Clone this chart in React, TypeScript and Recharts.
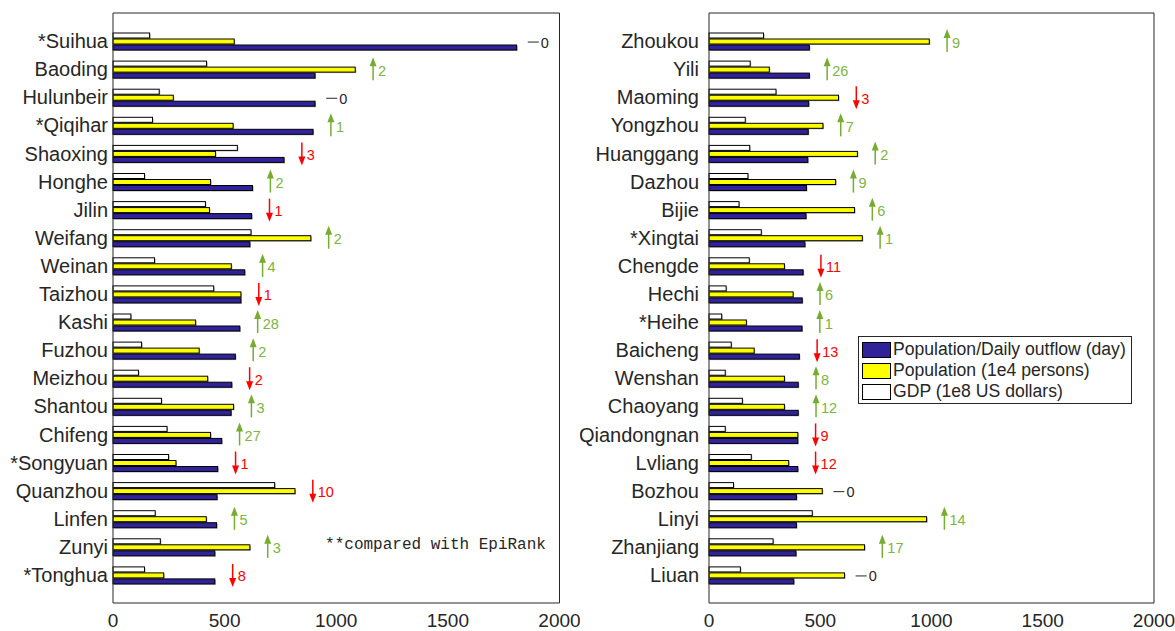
import React from 'react'
import { BarChart, Bar, XAxis, YAxis, ReferenceDot } from 'recharts'

// left panel (ranks 1-20)
const leftCities = ['*Suihua', 'Baoding', 'Hulunbeir', '*Qiqihar', 'Shaoxing', 'Honghe', 'Jilin', 'Weifang', 'Weinan', 'Taizhou',
  'Kashi', 'Fuzhou', 'Meizhou', 'Shantou', 'Chifeng', '*Songyuan', 'Quanzhou', 'Linfen', 'Zunyi', '*Tonghua']
const leftOutflow = [1808, 905, 905, 896, 766, 625, 621, 613, 590, 573, 568, 548, 532, 529, 487, 469, 466, 464, 456, 456]
const leftPop = [543, 1085, 270, 538, 459, 437, 432, 886, 530, 573, 370, 386, 424, 540, 437, 282, 815, 418, 613, 227]
const leftGdp = [164, 419, 207, 177, 557, 141, 414, 618, 186, 451, 80, 128, 114, 217, 242, 249, 724, 189, 212, 141]
const leftRank = [0, 2, 0, 1, -3, 2, -1, 2, 4, -1, 28, 2, -2, 3, 27, -1, -10, 5, 3, -8]

// right panel (ranks 21-40)
const rightCities = ['Zhoukou', 'Yili', 'Maoming', 'Yongzhou', 'Huanggang', 'Dazhou', 'Bijie', '*Xingtai', 'Chengde', 'Hechi',
  '*Heihe', 'Baicheng', 'Wenshan', 'Chaoyang', 'Qiandongnan', 'Lvliang', 'Bozhou', 'Linyi', 'Zhanjiang', 'Liuan']
const rightOutflow = [451, 451, 448, 446, 444, 438, 436, 431, 423, 419, 418, 406, 401, 401, 399, 399, 393, 393, 391, 381]
const rightPop = [990, 271, 582, 512, 667, 569, 654, 689, 339, 378, 168, 203, 339, 339, 399, 358, 509, 978, 699, 609]
const rightGdp = [245, 185, 301, 163, 183, 175, 135, 235, 181, 77, 57, 100, 73, 150, 73, 190, 110, 464, 288, 141]
const rightRank = [9, 26, -3, 7, 2, 9, 6, 1, -11, 6, 1, -13, 8, 12, -9, -12, 0, 14, 17, 0]

const xTicks = [0, 500, 1000, 1500, 2000]
const noteText = '**compared with EpiRank'

const INK = '#262626'
const FONT = '"Liberation Sans", Arial, Helvetica, sans-serif'
const UP = '#77ac30'
const UP_TXT = '#7db443'
const DOWN = '#ff0000'

// bar order top -> bottom inside each group; legend lists them reversed
const series = [
  { key: 'gdp', name: 'GDP (1e8 US dollars)', color: '#ffffff' },
  { key: 'pop', name: 'Population (1e4 persons)', color: '#ffff00' },
  { key: 'outflow', name: 'Population/Daily outflow (day)', color: '#30229b' },
]

type Row = { name: string; outflow: number; pop: number; gdp: number; rank: number }

const buildRows = (cities: string[], outflow: number[], pop: number[], gdp: number[], rank: number[]): Row[] =>
  cities.map((name, i) => ({ name, outflow: outflow[i], pop: pop[i], gdp: gdp[i], rank: rank[i] }))

const leftRows = buildRows(leftCities, leftOutflow, leftPop, leftGdp, leftRank)
const rightRows = buildRows(rightCities, rightOutflow, rightPop, rightGdp, rightRank)

const ShadowBar = (p: any) => {
  const { x, y, width, height, fill } = p
  if (!width || width <= 0) return <g />
  return (
    <g>
      <rect x={x + 1} y={y + 1} width={width} height={height} fill="#a8a8a8" />
      <rect x={x} y={y} width={width} height={height} fill={fill} stroke="#000" strokeWidth={1} />
    </g>
  )
}

function RankMark({ cx, cy, rank }: { cx: number; cy: number; rank: number }) {
  if (rank === 0) {
    return (
      <g>
        <line x1={cx} x2={cx + 11} y1={cy + 1} y2={cy + 1} stroke={INK} strokeWidth={1} />
        <text x={cx + 13} y={cy + 1.5} dominantBaseline="central" fontSize={14.5} fontFamily={FONT} fill={INK}>0</text>
      </g>
    )
  }
  const up = rank > 0
  const c = up ? UP : DOWN
  const s = up ? -1 : 1
  return (
    <g>
      <line x1={cx} x2={cx} y1={cy - s * 11} y2={cy + s * 4} stroke={c} strokeWidth={1.5} />
      <polygon points={`${cx},${cy + s * 12} ${cx - 3.5},${cy + s * 3} ${cx + 3.5},${cy + s * 3}`} fill={c} />
      <text x={cx + 5} y={cy + 1.5} dominantBaseline="central" fontSize={14.5} fontFamily={FONT} fill={up ? UP_TXT : DOWN}>
        {Math.abs(rank)}
      </text>
    </g>
  )
}

function Panel({ rows, width, axisWidth, right, gap, note }:
  { rows: Row[]; width: number; axisWidth: number; right: number; gap: number; note?: string }) {
  const pad = { top: 14, bottom: 14 }
  return (
    <BarChart width={width} height={631} data={rows} layout="vertical" barSize={5} barGap={1}
      margin={{ top: 13, right, bottom: 0, left: 4 }}>
      <XAxis xAxisId="b" type="number" domain={[0, 2000]} ticks={xTicks} height={28} tickSize={0} tickMargin={11}
        tickLine={false} axisLine={{ stroke: INK }} tick={{ fontSize: 19, fill: INK, fontFamily: FONT }} />
      <YAxis yAxisId="l" type="category" dataKey="name" width={axisWidth} padding={pad} interval={0}
        tickLine={false} tickSize={0} tickMargin={gap} axisLine={{ stroke: INK }}
        tick={{ fontSize: 20, fill: INK, fontFamily: FONT }} />
      {series.map(s => (
        <Bar key={s.key} xAxisId="b" yAxisId="l" dataKey={s.key} name={s.name} fill={s.color}
          shape={ShadowBar} isAnimationActive={false} />
      ))}
      {/* box edges and inward ticks */}
      <XAxis xAxisId="t" type="number" domain={[0, 2000]} ticks={xTicks} orientation="top" mirror height={1}
        tick={false} tickSize={5} tickLine={{ stroke: INK }} axisLine={{ stroke: INK }} />
      <YAxis yAxisId="r" type="category" dataKey="name" orientation="right" mirror width={1} padding={pad} interval={0}
        tick={false} tickSize={5} tickLine={{ stroke: INK }} axisLine={{ stroke: INK }} />
      <YAxis yAxisId="li" type="category" dataKey="name" mirror width={1} padding={pad} interval={0}
        tick={false} tickSize={5} tickLine={{ stroke: '#555' }} axisLine={false} />
      <XAxis xAxisId="bi" type="number" domain={[0, 2000]} ticks={xTicks} mirror height={1}
        tick={false} tickSize={5} tickLine={{ stroke: INK }} axisLine={false} />
      {rows.map(r => (
        <ReferenceDot key={r.name} xAxisId="b" yAxisId="l" y={r.name}
          x={Math.max(r.outflow, r.pop, r.gdp) + (r.rank === 0 ? 50 : 80)} r={0}
          shape={(p: any) => <RankMark cx={p.cx} cy={p.cy} rank={r.rank} />} />
      ))}
      {note && (
        <ReferenceDot xAxisId="b" yAxisId="l" x={950} y={rows[18].name} r={0}
          shape={(p: any) => (
            <text x={p.cx} y={p.cy - 2} dominantBaseline="central" fontSize={16}
              fontFamily='"Liberation Mono", "Courier New", monospace' fill={INK}>{note}</text>
          )} />
      )}
    </BarChart>
  )
}

function LegendBox() {
  return (
    <div style={{
      position: 'absolute', left: 858, top: 336, width: 274, height: 68, border: `1px solid ${INK}`,
      background: '#fff', fontFamily: FONT, fontSize: 17.6, color: INK, boxSizing: 'border-box', paddingTop: 2,
    }}>
      {[...series].reverse().map(s => (
        <div key={s.key} style={{ display: 'flex', alignItems: 'center', height: 21 }}>
          <span style={{ display: 'inline-block', width: 29, height: 16, marginLeft: 3, marginRight: 2,
            background: s.color, border: '1px solid #000', boxSizing: 'border-box' }} />
          <span style={{ whiteSpace: 'nowrap' }}>{s.name}</span>
        </div>
      ))}
    </div>
  )
}

export default function App() {
  return (
    <div style={{ position: 'absolute', left: 0, top: 0, width: 1175, height: 631, background: '#fff' }}>
      <div style={{ position: 'absolute', left: 0, top: 0 }}>
        <Panel rows={leftRows} width={580} axisWidth={109} right={20.5} gap={5} note={noteText} />
      </div>
      <div style={{ position: 'absolute', left: 580, top: 0 }}>
        <Panel rows={rightRows} width={595} axisWidth={125} right={21} gap={10} />
      </div>
      <LegendBox />
    </div>
  )
}
